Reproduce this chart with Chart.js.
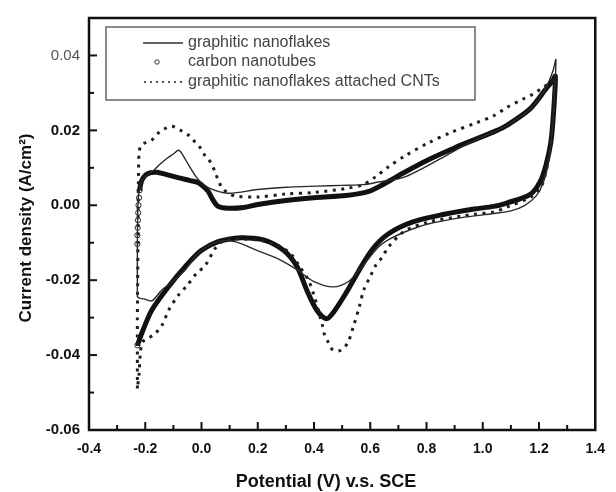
<!DOCTYPE html>
<html>
<head>
<meta charset="utf-8">
<script src="https://cdn.jsdelivr.net/npm/chart.js@4.4.1/dist/chart.umd.min.js"></script>
<style>
    html, body { margin: 0; padding: 0; background: #fff; }
</style>
</head>
<body>
<canvas id="myChart" width="616" height="492"></canvas>
<script>
// valores: potencial (V vs SCE) e densidade de corrente (A/cm2)
var nomes = ['graphitic nanoflakes', 'carbon nanotubes', 'graphitic nanoflakes attached CNTs'];

// graphitic nanoflakes (linha fina) - ramo anodico e depois catodico
var gnX = [-0.228, -0.228, -0.226, -0.222, -0.210, -0.190, -0.170, -0.150, -0.120, -0.100, -0.081, -0.068, -0.046, -0.011, 0.024, 0.094,
    0.200, 0.300, 0.409, 0.500, 0.574, 0.630, 0.680, 0.724, 0.805, 0.854, 0.930, 1.000, 1.085, 1.169, 1.225, 1.250, 1.260,
    1.255, 1.247, 1.235, 1.215, 1.190, 1.150, 1.100, 1.039, 0.924, 0.805, 0.720, 0.665, 0.630, 0.574, 0.524, 0.468, 0.398,
    0.339, 0.269, 0.199, 0.118, 0.059, -0.011, -0.057, -0.106, -0.141, -0.176, -0.205, -0.221, -0.228];
var gnY = [-0.0245, -0.0100, 0.0000, 0.0040, 0.0068, 0.0083, 0.0093, 0.0108, 0.0127, 0.0137, 0.0147, 0.0136, 0.0108, 0.0068, 0.0047, 0.0032,
    0.0042, 0.0048, 0.0051, 0.0053, 0.0055, 0.0062, 0.0068, 0.0076, 0.0106, 0.0126, 0.0158, 0.0183, 0.0213, 0.0258, 0.0315, 0.0360, 0.0389,
    0.0300, 0.0200, 0.0120, 0.0060, 0.0025, 0.0000, -0.0015, -0.0022, -0.0033, -0.0050, -0.0072, -0.0092, -0.0111, -0.0161, -0.0203, -0.0218, -0.0203,
    -0.0172, -0.0142, -0.0121, -0.0097, -0.0097, -0.0127, -0.0172, -0.0206, -0.0226, -0.0255, -0.0250, -0.0248, -0.0245];

// carbon nanotubes (banda grossa de circulos)
var cntX = [-0.228, -0.228, -0.227, -0.226, -0.225, -0.224, -0.222, -0.220, -0.213, -0.200, -0.180, -0.158, -0.130, -0.080, -0.040, -0.011,
    0.010, 0.024, 0.040, 0.059, 0.094, 0.150, 0.200, 0.300, 0.409, 0.514, 0.595, 0.644, 0.724, 0.805, 0.899, 0.980, 1.039, 1.085,
    1.169, 1.225, 1.250, 1.258,
    1.256, 1.250, 1.242, 1.225, 1.204, 1.169, 1.085, 1.039, 0.969, 0.864, 0.749, 0.665, 0.609, 0.560, 0.514, 0.468, 0.444,
    0.409, 0.374, 0.339, 0.293, 0.223, 0.150, 0.118, 0.059, -0.001, -0.057, -0.116, -0.176, -0.211, -0.228];
var cntY = [-0.0103, -0.0080, -0.0060, -0.0040, -0.0020, 0.0000, 0.0020, 0.0040, 0.0065, 0.0080, 0.0087, 0.0088, 0.0083, 0.0073, 0.0066, 0.0060,
    0.0048, 0.0037, 0.0015, -0.0003, -0.0008, -0.0006, 0.0002, 0.0013, 0.0021, 0.0026, 0.0037, 0.0055, 0.0089, 0.0121, 0.0153, 0.0178, 0.0196, 0.0213,
    0.0258, 0.0311, 0.0335, 0.0345,
    0.0300, 0.0230, 0.0168, 0.0108, 0.0063, 0.0029, 0.0006, -0.0003, -0.0010, -0.0024, -0.0045, -0.0076, -0.0116, -0.0174, -0.0234, -0.0287, -0.0303,
    -0.0279, -0.0226, -0.0163, -0.0121, -0.0093, -0.0087, -0.0088, -0.0097, -0.0121, -0.0163, -0.0216, -0.0279, -0.0339, -0.0374];

// graphitic nanoflakes attached CNTs (pontilhado)
var gcX = [-0.228, -0.228, -0.228, -0.227, -0.226, -0.225, -0.224, -0.222, -0.215, -0.200, -0.176, -0.150, -0.134, -0.106, -0.074, -0.046,
    -0.022, -0.004, 0.013, 0.034, 0.048, 0.059, 0.073, 0.100, 0.129, 0.199, 0.300, 0.400, 0.514, 0.574, 0.619, 0.665, 0.724,
    0.805, 0.889, 0.980, 1.039, 1.085, 1.144, 1.179, 1.207, 1.235, 1.256,
    1.256, 1.252, 1.243, 1.228, 1.205, 1.169, 1.085, 1.039, 0.969, 0.924, 0.805, 0.724, 0.665, 0.644, 0.619, 0.602, 0.577,
    0.560, 0.539, 0.521, 0.496, 0.468, 0.451, 0.437, 0.430, 0.415, 0.400, 0.380, 0.350, 0.320, 0.280, 0.220, 0.150, 0.100,
    0.076, 0.048, 0.013, -0.018, -0.053, -0.081, -0.116, -0.141, -0.169, -0.197, -0.211, -0.218, -0.222, -0.228];
var gcY = [-0.0489, -0.0400, -0.0300, -0.0200, -0.0100, 0.0000, 0.0080, 0.0140, 0.0160, 0.0167, 0.0175, 0.0195, 0.0203, 0.0211, 0.0200, 0.0187,
    0.0168, 0.0153, 0.0132, 0.0113, 0.0089, 0.0068, 0.0047, 0.0030, 0.0024, 0.0022, 0.0030, 0.0034, 0.0045, 0.0055, 0.0076, 0.0103, 0.0132,
    0.0166, 0.0195, 0.0221, 0.0239, 0.0261, 0.0284, 0.0297, 0.0311, 0.0325, 0.0340,
    0.0320, 0.0250, 0.0170, 0.0100, 0.0045, 0.0021, -0.0005, -0.0018, -0.0024, -0.0029, -0.0045, -0.0068, -0.0111, -0.0137, -0.0161, -0.0187, -0.0226,
    -0.0274, -0.0326, -0.0366, -0.0387, -0.0387, -0.0366, -0.0345, -0.0321, -0.0280, -0.0240, -0.0200, -0.0165, -0.0132, -0.0110, -0.0095, -0.0090, -0.0090,
    -0.0095, -0.0116, -0.0161, -0.0182, -0.0216, -0.0239, -0.0279, -0.0321, -0.0345, -0.0358, -0.0366, -0.0400, -0.0450, -0.0489];

// rotulos dos eixos
var xTicks = [-0.4, -0.2, 0.0, 0.2, 0.4, 0.6, 0.8, 1.0, 1.2, 1.4];
var yTicks = [-0.06, -0.04, -0.02, 0.00, 0.02, 0.04];
var tituloX = 'Potential (V) v.s. SCE';
var tituloY = 'Current density (A/cm\u00B2)';

function pontos(xs, ys) {
    var lista = [];
    for (var i = 0; i < xs.length; i++) {
        lista.push({ x: xs[i], y: ys[i] });
    }
    return lista;
}

// moldura, marcas internas, legenda e titulos
var moldura = {
    id: 'moldura',
    afterDatasetsDraw: function (chart) {
        var ctx = chart.ctx;
        var a = chart.chartArea;
        var sx = chart.scales.x;
        var sy = chart.scales.y;
        ctx.save();
        ctx.strokeStyle = '#111';
        ctx.lineWidth = 2;
        // marcas do eixo x (maiores e menores), para dentro
        for (var v = -0.3; v < 1.35; v += 0.1) {
            var px = sx.getPixelForValue(v);
            var maior = Math.abs(Math.round(v * 10) % 2) === 0;
            ctx.beginPath();
            ctx.moveTo(px, a.bottom);
            ctx.lineTo(px, a.bottom - (maior ? 8 : 5));
            ctx.stroke();
        }
        // marcas do eixo y
        for (var w = -0.05; w < 0.046; w += 0.01) {
            var py = sy.getPixelForValue(w);
            var maiorY = Math.abs(Math.round(w * 100) % 2) === 0;
            ctx.beginPath();
            ctx.moveTo(a.left, py);
            ctx.lineTo(a.left + (maiorY ? 8 : 5), py);
            ctx.stroke();
        }
        ctx.lineWidth = 2.5;
        ctx.strokeRect(a.left, a.top, a.right - a.left, a.bottom - a.top);

        // legenda dentro do grafico
        var lx = 106, ly = 27;
        ctx.fillStyle = '#fff';
        ctx.fillRect(lx, ly, 369, 73);
        ctx.strokeStyle = '#666';
        ctx.lineWidth = 1.5;
        ctx.strokeRect(lx, ly, 369, 73);
        ctx.font = '16px "Liberation Sans", Arial, sans-serif';
        ctx.fillStyle = '#444';
        ctx.textBaseline = 'middle';
        ctx.textAlign = 'left';
        var linhas = [43, 62, 82];
        for (var i = 0; i < nomes.length; i++) {
            ctx.fillText(nomes[i], 188, linhas[i]);
        }
        ctx.strokeStyle = '#333';
        ctx.lineWidth = 1.5;
        ctx.beginPath();
        ctx.moveTo(143, linhas[0]);
        ctx.lineTo(183, linhas[0]);
        ctx.stroke();
        ctx.lineWidth = 1;
        ctx.beginPath();
        ctx.arc(157, linhas[1], 2.2, 0, Math.PI * 2);
        ctx.stroke();
        ctx.fillStyle = '#555';
        for (var d = 144; d < 182; d += 6) {
            ctx.fillRect(d, linhas[2] - 1, 2, 2);
        }

        // titulos dos eixos
        ctx.fillStyle = '#111';
        ctx.font = 'bold 18px "Liberation Sans", Arial, sans-serif';
        ctx.textAlign = 'center';
        ctx.fillText(tituloX, 326, 482);
        ctx.font = 'bold 17px "Liberation Sans", Arial, sans-serif';
        ctx.translate(26, 228);
        ctx.rotate(-Math.PI / 2);
        ctx.fillText(tituloY, 0, 0);
        ctx.restore();
    }
};

var Grafico = new Chart(document.getElementById('myChart'), {
    type: 'scatter',
    data: {
        datasets: [{
            label: nomes[0],
            data: pontos(gnX, gnY),
            showLine: true,
            borderColor: '#2a2a2a',
            borderWidth: 1.4,
            pointRadius: 0,
            tension: 0.3,
            order: 0
        },
        {
            label: nomes[2],
            data: pontos(gcX, gcY),
            showLine: true,
            borderColor: '#1e1e1e',
            borderWidth: 3,
            borderDash: [3, 5.5],
            pointRadius: 0,
            tension: 0.3,
            order: 1
        },
        {
            label: nomes[1],
            data: pontos(cntX, cntY),
            showLine: true,
            borderColor: '#111',
            borderWidth: 5,
            borderJoinStyle: 'round',
            tension: 0.3,
            pointStyle: 'circle',
            pointRadius: function (c) {
                return (c.raw && c.raw.x < -0.215) ? 2.6 : 0;
            },
            pointBorderColor: '#222',
            pointBackgroundColor: 'rgba(0,0,0,0)',
            pointBorderWidth: 1,
            segment: {
                borderColor: function (c) {
                    return (c.p0.parsed.x < -0.215 && c.p1.parsed.x < -0.215) ? 'rgba(0,0,0,0)' : undefined;
                }
            },
            order: 2
        }]
    },
    options: {
        responsive: false,
        animation: false,
        layout: { padding: { top: 12, right: 11, left: 0, bottom: 0 } },
        plugins: {
            legend: { display: false },
            tooltip: { enabled: false }
        },
        scales: {
            x: {
                type: 'linear',
                min: -0.4,
                max: 1.4,
                afterFit: function (s) { s.height = 62; },
                afterBuildTicks: function (s) {
                    s.ticks = xTicks.map(function (v) { return { value: v }; });
                },
                grid: { display: false, drawTicks: false },
                border: { display: false },
                ticks: {
                    padding: 11,
                    autoSkip: false,
                    maxRotation: 0,
                    color: '#111',
                    font: { family: 'Liberation Sans', weight: 'bold', size: 14 },
                    callback: function (v) { return Math.abs(v) < 1e-9 ? '0.0' : Number(v).toFixed(1); }
                }
            },
            y: {
                min: -0.06,
                max: 0.05,
                afterFit: function (s) { s.width = 89; },
                afterBuildTicks: function (s) {
                    s.ticks = yTicks.map(function (v) { return { value: v }; });
                },
                grid: { display: false, drawTicks: false },
                border: { display: false },
                ticks: {
                    padding: 9,
                    color: function (c) { return c.tick && c.tick.value > 0.03 ? '#555' : '#111'; },
                    font: function (c) {
                        var topo = c.tick && c.tick.value > 0.03;
                        return { family: 'Liberation Sans', weight: topo ? 'normal' : 'bold', size: 15 };
                    },
                    callback: function (v) { return Math.abs(v) < 1e-9 ? '0.00' : Number(v).toFixed(2); }
                }
            }
        }
    },
    plugins: [moldura]
});
</script>
</body>
</html>
